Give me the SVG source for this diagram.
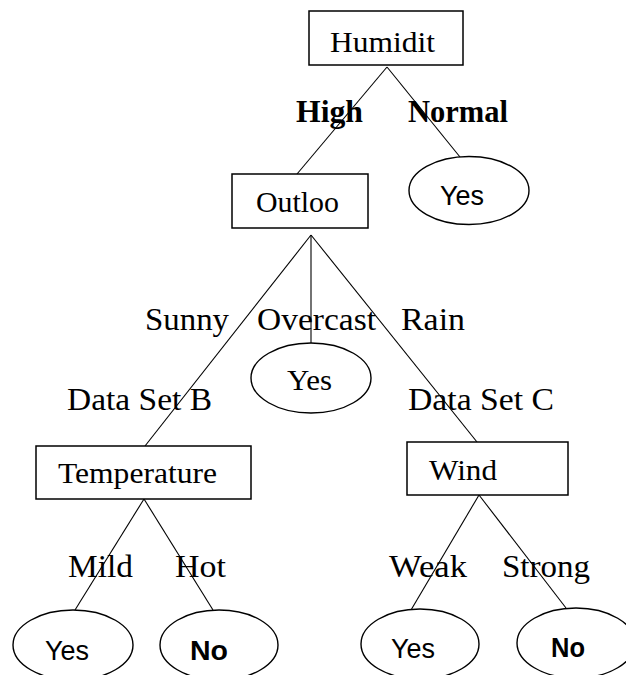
<svg xmlns="http://www.w3.org/2000/svg" width="626" height="675" viewBox="0 0 626 675">
<style>
.box{fill:#fff;stroke:#000;stroke-width:1.5}
.ell{fill:#fff;stroke:#000;stroke-width:1.4}
.edge{stroke:#000;stroke-width:1.1;fill:none}
.t{font-family:"Liberation Serif","Times New Roman",serif;font-size:30px;fill:#000}
.lb{font-family:"Liberation Serif","Times New Roman",serif;font-size:31px;fill:#000}
.bold{font-weight:bold}
.s{font-family:"Liberation Sans",Arial,sans-serif;font-size:27px;fill:#000}
</style>
<rect width="626" height="675" fill="#fff"/>
<g id="connectors">
<line class="edge" x1="387" y1="67" x2="297" y2="174"/>
<line class="edge" x1="387" y1="67" x2="460" y2="157"/>
<line class="edge" x1="311" y1="235" x2="145" y2="446"/>
<line class="edge" x1="311" y1="235" x2="311" y2="343"/>
<line class="edge" x1="311" y1="235" x2="477" y2="442"/>
<line class="edge" x1="144" y1="499" x2="75" y2="610"/>
<line class="edge" x1="144" y1="499" x2="213" y2="610"/>
<line class="edge" x1="479" y1="495" x2="411" y2="610"/>
<line class="edge" x1="479" y1="495" x2="566" y2="608"/>
</g>
<g id="edge-labels">
<text class="lb bold" x="296" y="122" textLength="67" lengthAdjust="spacingAndGlyphs">High</text>
<text class="lb bold" x="408" y="122" textLength="100" lengthAdjust="spacingAndGlyphs">Normal</text>
<text class="lb" x="145" y="330" textLength="84" lengthAdjust="spacingAndGlyphs">Sunny</text>
<text class="lb" x="257" y="330" textLength="119" lengthAdjust="spacingAndGlyphs">Overcast</text>
<text class="lb" x="401" y="330" textLength="64" lengthAdjust="spacingAndGlyphs">Rain</text>
<text class="lb" x="67" y="410" textLength="145" lengthAdjust="spacingAndGlyphs">Data Set B</text>
<text class="lb" x="408" y="410" textLength="146" lengthAdjust="spacingAndGlyphs">Data Set C</text>
<text class="lb" x="68" y="577" textLength="65" lengthAdjust="spacingAndGlyphs">Mild</text>
<text class="lb" x="175" y="577" textLength="51" lengthAdjust="spacingAndGlyphs">Hot</text>
<text class="lb" x="389" y="577" textLength="78" lengthAdjust="spacingAndGlyphs">Weak</text>
<text class="lb" x="502" y="577" textLength="88" lengthAdjust="spacingAndGlyphs">Strong</text>
</g>
<g id="humidity">
<rect class="box" x="309" y="11" width="154" height="54"/>
<text class="t" x="330" y="52" textLength="105" lengthAdjust="spacingAndGlyphs">Humidit</text>
</g>
<g id="yes-normal">
<ellipse class="ell" cx="469" cy="190.5" rx="60" ry="34"/>
<text class="s" x="440" y="205" textLength="44" lengthAdjust="spacingAndGlyphs">Yes</text>
</g>
<g id="outlook">
<rect class="box" x="232" y="174" width="136" height="54"/>
<text class="t" x="256" y="212" textLength="83" lengthAdjust="spacingAndGlyphs">Outloo</text>
</g>
<g id="yes-overcast">
<ellipse class="ell" cx="311" cy="378" rx="60" ry="35"/>
<text class="t" x="287" y="390" textLength="45" lengthAdjust="spacingAndGlyphs">Yes</text>
</g>
<g id="temperature">
<rect class="box" x="36" y="446" width="215" height="53"/>
<text class="t" x="58" y="483" textLength="159" lengthAdjust="spacingAndGlyphs">Temperature</text>
</g>
<g id="wind">
<rect class="box" x="407" y="442" width="161" height="53"/>
<text class="t" x="429" y="480" textLength="68" lengthAdjust="spacingAndGlyphs">Wind</text>
</g>
<g id="yes-mild">
<ellipse class="ell" cx="73" cy="645" rx="60" ry="35"/>
<text class="s" x="45" y="660" textLength="44" lengthAdjust="spacingAndGlyphs">Yes</text>
</g>
<g id="no-hot">
<ellipse class="ell" cx="219" cy="645" rx="59" ry="35"/>
<text class="s bold" x="190" y="660" textLength="38" lengthAdjust="spacingAndGlyphs">No</text>
</g>
<g id="yes-weak">
<ellipse class="ell" cx="420" cy="644" rx="59" ry="35"/>
<text class="s" x="391" y="658" textLength="44" lengthAdjust="spacingAndGlyphs">Yes</text>
</g>
<g id="no-strong">
<ellipse class="ell" cx="576" cy="643" rx="59" ry="35"/>
<text class="s bold" x="551" y="657" textLength="34" lengthAdjust="spacingAndGlyphs">No</text>
</g>
</svg>
